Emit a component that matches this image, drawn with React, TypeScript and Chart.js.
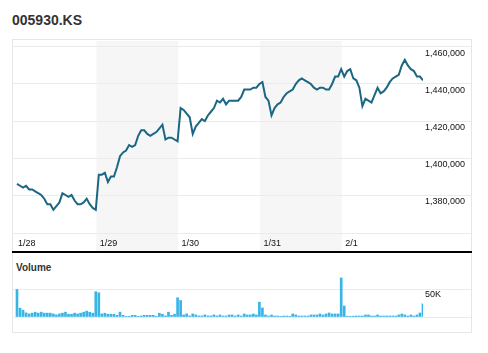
import React, { useEffect, useRef } from 'react';
import { Chart, registerables } from 'chart.js';

Chart.register(...registerables);

const title = '005930.KS';
const dayLabels = ['1/28', '1/29', '1/30', '1/31', '2/1'];
const pointsPerDay = 27;

const pricesDay1 = [1386000, 1385000, 1384000, 1385000, 1383000, 1383000, 1382000, 1381000, 1380000, 1378000, 1375000, 1375000, 1372000, 1374000, 1376000, 1381000, 1380000, 1379000, 1380000, 1377000, 1375000, 1375000, 1376000, 1378000, 1375000, 1373000, 1372000];
const pricesDay2 = [1391000, 1391000, 1392000, 1387000, 1390000, 1390000, 1395000, 1401000, 1403000, 1404000, 1407000, 1406000, 1407000, 1412000, 1415000, 1415000, 1413000, 1412000, 1413000, 1414000, 1416000, 1418000, 1410000, 1411000, 1411000, 1410000, 1409000];
const pricesDay3 = [1427000, 1426000, 1424000, 1422000, 1413000, 1417000, 1419000, 1421000, 1420000, 1423000, 1425000, 1427000, 1431000, 1430000, 1432000, 1429000, 1431000, 1431000, 1431000, 1431000, 1433000, 1437000, 1437000, 1437000, 1438000, 1438000, 1440000];
const pricesDay4 = [1441000, 1433000, 1431000, 1423000, 1427000, 1429000, 1430000, 1433000, 1435000, 1436000, 1437000, 1440000, 1442000, 1443000, 1442000, 1441000, 1440000, 1438000, 1437000, 1438000, 1438000, 1437000, 1437000, 1440000, 1444000, 1444000, 1448000];
const pricesDay5 = [1444000, 1447000, 1448000, 1443000, 1442000, 1438000, 1428000, 1432000, 1431000, 1430000, 1434000, 1438000, 1435000, 1436000, 1438000, 1441000, 1443000, 1444000, 1445000, 1450000, 1453000, 1450000, 1448000, 1447000, 1444000, 1444000, 1442000];

const volumeDay1 = [50000, 16000, 12500, 7500, 5600, 7000, 8800, 7000, 8800, 7000, 7000, 7000, 5600, 3800, 5600, 7000, 8800, 5000, 5000, 7000, 5600, 7000, 8800, 10600, 8800, 7000, 46000];
const volumeDay2 = [44000, 5600, 6900, 5000, 5000, 5000, 3000, 8800, 3000, 1300, 1300, 3000, 3000, 1300, 2000, 3000, 3000, 3000, 3000, 1300, 6900, 5000, 2000, 8800, 3000, 5000, 35000];
const volumeDay3 = [30000, 3800, 5600, 2000, 5600, 3800, 2000, 2000, 3800, 2000, 2000, 3800, 2000, 3700, 1800, 1800, 3700, 3700, 1800, 3700, 1800, 5500, 3700, 3700, 5500, 3700, 27000];
const volumeDay4 = [16500, 3700, 1800, 3700, 1800, 1800, 500, 1800, 1800, 500, 5500, 3700, 1800, 1800, 1800, 1800, 3700, 3700, 3700, 5500, 3700, 5500, 7300, 5500, 5500, 5500, 71000];
const volumeDay5 = [20000, 1500, 500, 1500, 1800, 1800, 1800, 3700, 3700, 1800, 1800, 3700, 1800, 1800, 1800, 1800, 1800, 1800, 3700, 5500, 3700, 1800, 3700, 1800, 3700, 7300, 24000];

const priceTicks = [1380000, 1400000, 1420000, 1440000, 1460000];
const volumeTicks = [0, 50000];
const volumeTickLabels = ['', '50K'];

const prices = [...pricesDay1, ...pricesDay2, ...pricesDay3, ...pricesDay4, ...pricesDay5];
const volumes = [...volumeDay1, ...volumeDay2, ...volumeDay3, ...volumeDay4, ...volumeDay5];

const FONT = '"Liberation Sans", Arial, sans-serif';
const GRID = '#ebebeb';
const X_MIN = -1.65;
const X_MAX = prices.length - 1;

const bandPlugin = {
  id: 'dayBands',
  beforeDraw(chart: any) {
    const { ctx, height } = chart;
    const x = chart.scales.x;
    ctx.save();
    ctx.fillStyle = '#f6f6f6';
    dayLabels.forEach((_, d) => {
      if (d % 2 === 1) {
        const x1 = x.getPixelForValue(d * pointsPerDay - 0.8);
        const x2 = x.getPixelForValue((d + 1) * pointsPerDay - 0.8);
        ctx.fillRect(x1, 2, x2 - x1, height - 2);
      }
    });
    ctx.restore();
  },
};

function rightAxisFit(scale: any) {
  scale.width = 48;
  scale.paddingTop = 0;
  scale.paddingBottom = 0;
}

export default function App() {
  const mainRef = useRef<HTMLCanvasElement>(null);
  const volRef = useRef<HTMLCanvasElement>(null);

  useEffect(() => {
    const main = new Chart(mainRef.current!, {
      type: 'line',
      data: {
        datasets: [
          {
            data: prices.map((p, i) => ({ x: i, y: p })),
            borderColor: '#1b6683',
            borderWidth: 2,
            pointRadius: 0,
            tension: 0,
            fill: false,
          },
        ],
      },
      options: {
        animation: false,
        responsive: false,
        devicePixelRatio: 1,
        layout: { padding: 0 },
        plugins: { legend: { display: false }, tooltip: { enabled: false } },
        scales: {
          x: {
            type: 'linear',
            min: X_MIN,
            max: X_MAX,
            grid: { display: false, drawTicks: false },
            border: { display: false },
            afterBuildTicks: (scale: any) => {
              scale.ticks = dayLabels.map((_, d) => ({ value: d * pointsPerDay }));
            },
            afterFit: (scale: any) => {
              scale.height = 18;
              scale.paddingLeft = 0;
              scale.paddingRight = 0;
            },
            ticks: {
              autoSkip: false,
              maxRotation: 0,
              align: 'start',
              padding: 5,
              labelOffset: 1,
              color: '#111',
              font: { family: FONT, size: 9 },
              callback: (_v: any, i: number) => dayLabels[i],
            },
          },
          y: {
            position: 'right',
            min: 1359460,
            max: 1464324,
            grid: { color: GRID, drawTicks: true, tickLength: 48 },
            border: { display: false },
            afterBuildTicks: (scale: any) => {
              scale.ticks = [{ value: scale.min }, ...priceTicks.map((v) => ({ value: v }))];
            },
            afterFit: rightAxisFit,
            ticks: {
              padding: -46,
              labelOffset: 7,
              crossAlign: 'near',
              color: '#111',
              font: { family: FONT, size: 9 },
              callback: (v: any) => (priceTicks.includes(v) ? Number(v).toLocaleString('en-US') : ''),
            },
          },
        },
      },
      plugins: [bandPlugin],
    } as any);

    const vol = new Chart(volRef.current!, {
      type: 'bar',
      data: {
        datasets: [
          {
            data: volumes.map((v, i) => ({ x: i, y: v })),
            backgroundColor: '#38b5e6',
            barThickness: 2,
          },
        ],
      },
      options: {
        animation: false,
        responsive: false,
        devicePixelRatio: 1,
        layout: { padding: { bottom: 2 } },
        plugins: { legend: { display: false }, tooltip: { enabled: false } },
        scales: {
          x: {
            type: 'linear',
            min: X_MIN,
            max: X_MAX,
            offset: false,
            display: false,
          },
          y: {
            position: 'right',
            min: 0,
            max: 76364,
            grid: { color: GRID, drawTicks: true, tickLength: 48 },
            border: { display: false },
            afterBuildTicks: (scale: any) => {
              scale.ticks = volumeTicks.map((v) => ({ value: v }));
            },
            afterFit: rightAxisFit,
            ticks: {
              padding: -46,
              labelOffset: 5,
              crossAlign: 'near',
              color: '#111',
              font: { family: FONT, size: 9 },
              callback: (v: any) => volumeTickLabels[volumeTicks.indexOf(v)] ?? '',
            },
          },
        },
      },
    } as any);

    return () => {
      main.destroy();
      vol.destroy();
    };
  }, []);

  return (
    <div style={{ position: 'fixed', left: 0, top: 0, width: 488, height: 353, background: '#fff', fontFamily: FONT }}>
      <div
        style={{
          position: 'absolute', left: 12, top: 13, fontSize: 14, lineHeight: '14px',
          fontWeight: 'bold', color: '#333', whiteSpace: 'nowrap',
        }}
      >
        {title}
      </div>
      <div
        style={{
          position: 'absolute', left: 12, top: 39, width: 460, height: 294,
          boxSizing: 'border-box', border: '1px solid #e6e6e6',
        }}
      />
      <canvas ref={mainRef} width={459} height={212} style={{ position: 'absolute', left: 12, top: 39, width: 459, height: 212 }} />
      <div style={{ position: 'absolute', left: 12, top: 251, width: 460, height: 2, background: '#000' }} />
      <div
        style={{
          position: 'absolute', left: 16, top: 263, fontSize: 10, lineHeight: '10px',
          fontWeight: 'bold', color: '#333', whiteSpace: 'nowrap',
        }}
      >
        Volume
      </div>
      <canvas ref={volRef} width={459} height={44} style={{ position: 'absolute', left: 12, top: 275, width: 459, height: 44 }} />
    </div>
  );
}
